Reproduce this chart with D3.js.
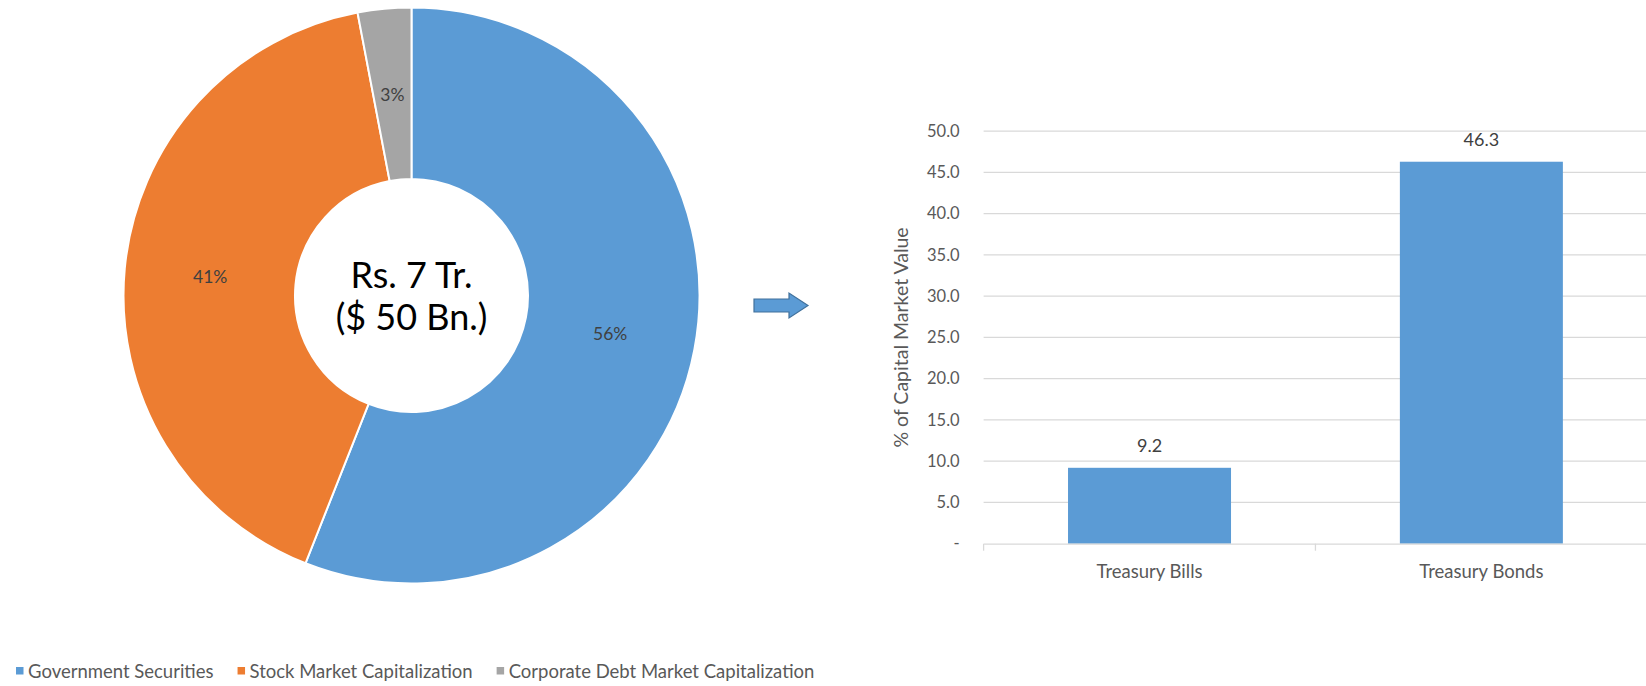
<!DOCTYPE html>
<html>
<head>
<meta charset="utf-8">
<script src="https://cdn.jsdelivr.net/npm/d3@7"></script>
<style>
  html, body { margin: 0; padding: 0; background: #ffffff; }
  svg { display: block; font-family: Lato, "Open Sans", sans-serif; }
</style>
</head>
<body>
<svg id="chart" width="1646" height="686"></svg>
<script>
// Capital market composition (donut)
const segmentNames = ["Government Securities", "Stock Market Capitalization", "Corporate Debt Market Capitalization"];
const segmentShares = [56, 41, 3];
const segmentColors = ["#5b9bd5", "#ed7d31", "#a5a5a5"];
const centreLines = ["Rs. 7 Tr.", "($ 50 Bn.)"];

// Government securities breakdown (bars)
const instruments = ["Treasury Bills", "Treasury Bonds"];
const instrumentShares = [9.2, 46.3];
const yTickValues = [0, 5, 10, 15, 20, 25, 30, 35, 40, 45, 50];
const yTitle = "% of Capital Market Value";

const svg = d3.select("#chart");
const textDark = "#404040";
const textMid = "#595959";

// ---------- Donut ----------
const cx = 411.5, cy = 295.5, rOuter = 288, rInner = 116.5;
const pie = d3.pie().sort(null).value(d => d.v);
const arcs = pie(segmentShares.map((v, i) => ({ v, name: segmentNames[i], color: segmentColors[i] })));
const arc = d3.arc().innerRadius(rInner).outerRadius(rOuter);
const labelArc = d3.arc().innerRadius((rInner + rOuter) / 2).outerRadius((rInner + rOuter) / 2);

const donut = svg.append("g").attr("transform", `translate(${cx},${cy})`);
donut.selectAll("path.slice").data(arcs).join("path")
  .attr("class", "slice")
  .attr("d", arc)
  .attr("fill", d => d.data.color)
  .attr("stroke", "#ffffff")
  .attr("stroke-width", 2);

donut.selectAll("text.pct").data(arcs).join("text")
  .attr("class", "pct")
  .attr("transform", d => `translate(${labelArc.centroid(d)})`)
  .attr("text-anchor", "middle")
  .attr("dominant-baseline", "central")
  .attr("font-size", 17.5)
  .attr("fill", textDark)
  .text(d => d3.format(".0f")(d.data.v) + "%");

donut.selectAll("text.centre").data(centreLines).join("text")
  .attr("class", "centre")
  .attr("text-anchor", "middle")
  .attr("dominant-baseline", "central")
  .attr("y", (d, i) => i === 0 ? -22 : 20)
  .attr("font-size", 36)
  .attr("fill", "#000000")
  .text(d => d);

// ---------- Legend ----------
const legend = svg.append("g").attr("transform", "translate(16,671)");
let lx = 0;
segmentNames.forEach((name, i) => {
  const g = legend.append("g").attr("transform", `translate(${lx},0)`);
  g.append("rect").attr("x", 0).attr("y", -4).attr("width", 7.5).attr("height", 7.5).attr("fill", segmentColors[i]);
  const t = g.append("text").attr("x", 12).attr("dominant-baseline", "central")
    .attr("font-size", 18.5).attr("fill", textMid).text(name);
  lx += 12 + t.node().getComputedTextLength() + 24;
});

// ---------- Arrow ----------
const arrowPts = [[754, 299], [789, 299], [789, 293], [808, 305.5], [789, 318], [789, 312], [754, 312]];
svg.append("path")
  .attr("d", d3.line()(arrowPts) + "Z")
  .attr("fill", "#5b9bd5")
  .attr("stroke", "#41719c")
  .attr("stroke-width", 1.2);

// ---------- Bar chart ----------
const plotLeft = 983.6, plotRight = 1647.3, plotTop = 131.2, plotBottom = 543.7;
const gap = 1 - 163 / ((plotRight - plotLeft) / instruments.length);
const x = d3.scaleBand().domain(instruments).range([plotLeft, plotRight])
  .paddingInner(gap).paddingOuter(gap / 2);
const y = d3.scaleLinear().domain([0, 50]).range([plotBottom, plotTop]);

// gridlines
svg.append("g").selectAll("line").data(yTickValues.filter(v => v > 0)).join("line")
  .attr("x1", plotLeft).attr("x2", 1646)
  .attr("y1", d => y(d)).attr("y2", d => y(d))
  .attr("stroke", "#d9d9d9").attr("stroke-width", 1.3);

// y axis labels
const yAxis = d3.axisLeft(y).tickValues(yTickValues)
  .tickFormat(d => d === 0 ? "-" : d3.format(".1f")(d))
  .tickSize(0).tickPadding(24);
const yG = svg.append("g").attr("transform", `translate(${plotLeft},0)`).call(yAxis);
yG.select(".domain").remove();
yG.selectAll("text").attr("font-size", 16.5).attr("fill", textMid).attr("font-family", "Lato, sans-serif");

// bars
svg.append("g").selectAll("rect").data(instruments).join("rect")
  .attr("x", d => x(d))
  .attr("width", x.bandwidth())
  .attr("y", (d, i) => y(instrumentShares[i]))
  .attr("height", (d, i) => y(0) - y(instrumentShares[i]))
  .attr("fill", "#5b9bd5");

// value labels
svg.append("g").selectAll("text").data(instruments).join("text")
  .attr("x", d => x(d) + x.bandwidth() / 2)
  .attr("y", (d, i) => y(instrumentShares[i]) - 23)
  .attr("text-anchor", "middle")
  .attr("dominant-baseline", "central")
  .attr("font-size", 18).attr("fill", textDark)
  .text((d, i) => d3.format(".1f")(instrumentShares[i]));

// x axis
const xAxis = d3.axisBottom(x).tickSize(0).tickPadding(21);
const xG = svg.append("g").attr("transform", `translate(0,${plotBottom})`).call(xAxis);
xG.select(".domain").attr("stroke", "#d9d9d9").attr("stroke-width", 1.3);
xG.selectAll("text").attr("font-size", 18.5).attr("fill", textMid).attr("font-family", "Lato, sans-serif");
// category boundary ticks
const bounds = d3.range(instruments.length + 1).map(i => x.range()[0] + i * x.step());
xG.selectAll("line.bound").data(bounds).join("line")
  .attr("class", "bound")
  .attr("x1", d => d).attr("x2", d => d)
  .attr("y1", 0).attr("y2", 7)
  .attr("stroke", "#d9d9d9").attr("stroke-width", 1.3);

// y axis title
svg.append("text")
  .attr("transform", `translate(900,${(plotTop + plotBottom) / 2}) rotate(-90)`)
  .attr("text-anchor", "middle")
  .attr("dominant-baseline", "central")
  .attr("font-size", 19.5)
  .attr("fill", textMid)
  .text(yTitle);
</script>
</body>
</html>
